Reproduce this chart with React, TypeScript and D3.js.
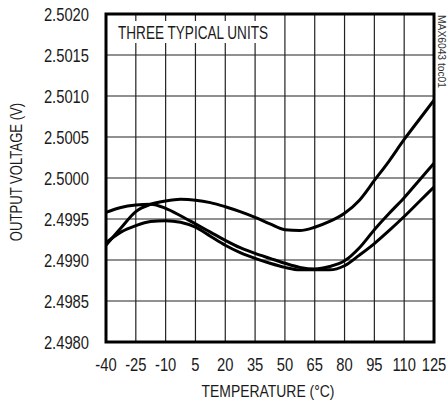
import React, { useRef, useEffect } from 'react';
import * as d3 from 'd3';

// temperature points (°C) the curves were read at
const temps = [-40, -32.5, -25, -17.5, -10, -2.5, 5, 12.5, 20, 27.5, 35, 42.5, 50, 57.5, 65, 72.5, 80, 87.5, 95, 102.5, 110, 117.5, 125];

// output voltage (V) of the three units
const unitA = [2.49958, 2.49964, 2.49967, 2.49968, 2.49963, 2.49954, 2.49944, 2.49934, 2.49924, 2.49915, 2.49908, 2.49902, 2.49896, 2.49891, 2.49889, 2.49892, 2.49899, 2.49915, 2.49937, 2.49957, 2.49976, 2.49997, 2.50018];
const unitB = [2.49918, 2.49939, 2.49959, 2.49968, 2.49972, 2.49974, 2.49973, 2.4997, 2.49965, 2.49959, 2.49952, 2.49944, 2.49937, 2.49936, 2.4994, 2.49947, 2.49957, 2.49973, 2.49997, 2.50021, 2.50047, 2.50071, 2.50095];
const unitC = [2.49921, 2.49934, 2.49942, 2.49947, 2.49948, 2.49946, 2.4994, 2.49929, 2.49918, 2.49909, 2.49902, 2.49896, 2.49891, 2.49888, 2.49888, 2.49888, 2.49893, 2.49906, 2.4992, 2.49936, 2.49953, 2.49971, 2.49989];

const xTicks = [-40, -25, -10, 5, 20, 35, 50, 65, 80, 95, 110, 125];
const yTicks = [2.498, 2.4985, 2.499, 2.4995, 2.5, 2.5005, 2.501, 2.5015, 2.502];

const FONT = "'Liberation Sans', Arial, sans-serif";
const NARROW = 0.82; // squeeze to a condensed look

const TempChart: React.FC = () => {
  const svgRef = useRef<SVGSVGElement | null>(null);

  useEffect(() => {
    d3.select(svgRef.current).selectAll("*").remove();

    const svg = d3.select(svgRef.current)
      .attr("width", 448)
      .attr("height", 404)
      .style("background", "#fff");

    const left = 106, right = 434, top = 14, bottom = 342;

    // scales
    const x = d3.scaleLinear().domain([-40, 125]).range([left, right]);
    const y = d3.scaleLinear().domain([2.498, 2.502]).range([bottom, top]);

    // grid
    svg.append("g")
      .selectAll("line")
      .data(xTicks.slice(1, -1))
      .enter()
      .append("line")
      .attr("x1", d => x(d)).attr("x2", d => x(d))
      .attr("y1", top).attr("y2", bottom)
      .attr("stroke", "#222")
      .attr("stroke-width", 1.2);

    svg.append("g")
      .selectAll("line")
      .data(yTicks.slice(1, -1))
      .enter()
      .append("line")
      .attr("x1", left).attr("x2", right)
      .attr("y1", d => y(d)).attr("y2", d => y(d))
      .attr("stroke", "#222")
      .attr("stroke-width", 1.2);

    // label box
    svg.append("rect")
      .attr("x", left + 1).attr("y", 21)
      .attr("width", 166).attr("height", 22)
      .attr("fill", "#fff");

    svg.append("text")
      .attr("x", 118).attr("y", 39)
      .attr("font-family", FONT)
      .attr("font-size", 18)
      .attr("textLength", 150)
      .attr("lengthAdjust", "spacingAndGlyphs")
      .attr("fill", "#1a1a1a")
      .text("THREE TYPICAL UNITS");

    // curves
    const line = d3.line<number>()
      .x((_, i) => x(temps[i]))
      .y(v => y(v))
      .curve(d3.curveMonotoneX);

    svg.append("g")
      .selectAll("path")
      .data([unitA, unitB, unitC])
      .enter()
      .append("path")
      .attr("d", d => line(d))
      .attr("fill", "none")
      .attr("stroke", "#000")
      .attr("stroke-width", 3);

    // frame
    svg.append("rect")
      .attr("x", left).attr("y", top)
      .attr("width", right - left).attr("height", bottom - top)
      .attr("fill", "none")
      .attr("stroke", "#000")
      .attr("stroke-width", 3);

    // tick labels
    svg.append("g")
      .selectAll("text")
      .data(yTicks)
      .enter()
      .append("text")
      .attr("transform", d => `translate(89,${y(d) + 6.5}) scale(${NARROW},1)`)
      .attr("text-anchor", "end")
      .attr("font-family", FONT)
      .attr("font-size", 18)
      .attr("fill", "#1a1a1a")
      .text(d => d3.format(".4f")(d));

    svg.append("g")
      .selectAll("text")
      .data(xTicks)
      .enter()
      .append("text")
      .attr("transform", d => `translate(${x(d)},371) scale(${NARROW},1)`)
      .attr("text-anchor", "middle")
      .attr("font-family", FONT)
      .attr("font-size", 18)
      .attr("fill", "#1a1a1a")
      .text(d => String(d));

    // axis titles
    svg.append("text")
      .attr("transform", `translate(268,397) scale(${NARROW},1)`)
      .attr("text-anchor", "middle")
      .attr("font-family", FONT)
      .attr("font-size", 17)
      .attr("fill", "#1a1a1a")
      .text("TEMPERATURE (°C)");

    svg.append("text")
      .attr("transform", `translate(22,172) rotate(-90) scale(${NARROW},1)`)
      .attr("text-anchor", "middle")
      .attr("font-family", FONT)
      .attr("font-size", 16)
      .attr("fill", "#1a1a1a")
      .text("OUTPUT VOLTAGE (V)");

    svg.append("text")
      .attr("transform", "translate(438,15) rotate(90)")
      .attr("font-family", FONT)
      .attr("font-size", 10)
      .attr("textLength", 73)
      .attr("lengthAdjust", "spacingAndGlyphs")
      .attr("fill", "#333")
      .text("MAX6043 toc01");
  }, []);

  return (
    <svg ref={svgRef} style={{ position: 'absolute', left: 0, top: 0 }}></svg>
  );
};

export default function App() {
  return <TempChart />;
}
